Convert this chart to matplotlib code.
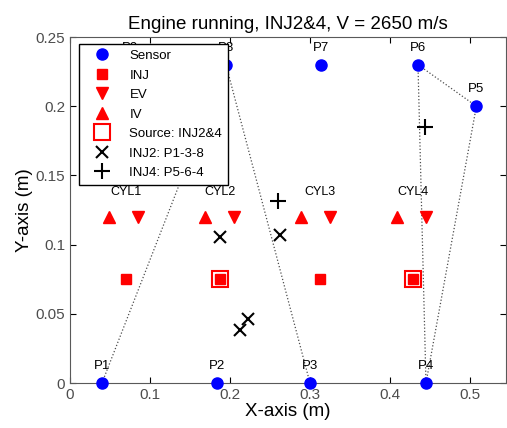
import matplotlib.pyplot as plt

plt.rcParams['font.family'] = ['Liberation Sans', 'DejaVu Sans']

# sensor positions (m)
sensor_names = ["P1", "P2", "P3", "P4", "P5", "P6", "P7", "P8", "P9"]
sensor_x = [0.04, 0.184, 0.30, 0.445, 0.508, 0.435, 0.314, 0.195, 0.075]
sensor_y = [0.0, 0.0, 0.0, 0.0, 0.20, 0.23, 0.23, 0.23, 0.23]

# cylinder components
cyl_names = ["CYL1", "CYL2", "CYL3", "CYL4"]
inj_x = [0.07, 0.1875, 0.312, 0.429]
inj_y = [0.075, 0.075, 0.075, 0.075]
ev_x = [0.085, 0.205, 0.325, 0.445]
iv_x = [0.049, 0.169, 0.289, 0.409]
valve_y = [0.12, 0.12, 0.12, 0.12]
label_y = 0.134

# sources
src_x = [0.1875, 0.429]
src_y = [0.075, 0.075]

# localisation results
inj2_x = [0.187, 0.263, 0.2125, 0.223]
inj2_y = [0.1055, 0.107, 0.038, 0.046]
inj4_x = [0.260, 0.444]
inj4_y = [0.1315, 0.185]

# sensor paths drawn for each source
path_inj2 = ["P1", "P8", "P3"]
path_inj4 = ["P5", "P6", "P4", "P5"]

fig = plt.figure(figsize=(5.07, 4.28), dpi=100)
ax = fig.add_axes([0.138, 0.105, 0.86, 0.8085])

pos = {n: (x, y) for n, x, y in zip(sensor_names, sensor_x, sensor_y)}
for path in (path_inj2, path_inj4):
    pts = [pos[n] for n in path]
    ax.plot([p[0] for p in pts], [p[1] for p in pts], ':', color='0.3',
            lw=0.9, zorder=1)

ax.plot(sensor_x, sensor_y, 'o', color='blue', ms=8, ls='none',
        label='Sensor', clip_on=False, zorder=5)
ax.plot(inj_x, inj_y, 's', color='red', ms=6.5, ls='none', label='INJ', zorder=4)
ax.plot(ev_x, valve_y, 'v', color='red', ms=8, ls='none', label='EV', zorder=4)
ax.plot(iv_x, valve_y, '^', color='red', ms=8, ls='none', label='IV', zorder=4)
ax.plot(src_x, src_y, 's', mfc='none', mec='red', mew=1.5, ms=11, ls='none',
        label='Source: INJ2&4', zorder=4)
ax.plot(inj2_x, inj2_y, 'x', color='black', ms=9, mew=1.5, ls='none',
        label='INJ2: P1-3-8', zorder=4)
ax.plot(inj4_x, inj4_y, '+', color='black', ms=11, mew=1.5, ls='none',
        label='INJ4: P5-6-4', zorder=4)

for n, x, y in zip(sensor_names, sensor_x, sensor_y):
    ax.text(x, y + 0.008, n, ha='center', va='bottom', fontsize=9.5, zorder=3)
for n, x in zip(cyl_names, inj_x):
    ax.text(x, label_y, n, ha='center', va='bottom', fontsize=9)

ax.set_xlim(0, 0.545)
ax.set_ylim(0, 0.25)
ax.set_xticks([0, 0.1, 0.2, 0.3, 0.4, 0.5])
ax.set_xticklabels(['0', '0.1', '0.2', '0.3', '0.4', '0.5'])
ax.set_yticks([0, 0.05, 0.1, 0.15, 0.2, 0.25])
ax.set_yticklabels(['0', '0.05', '0.1', '0.15', '0.2', '0.25'])
ax.tick_params(direction='in', top=True, right=True, labelsize=11,
               labelcolor='0.3', length=4)
for s in ax.spines.values():
    s.set_color('0.35')
ax.set_xlabel('X-axis (m)', fontsize=13.5, labelpad=1)
ax.set_ylabel('Y-axis (m)', fontsize=13.5, labelpad=2)
ax.set_title('Engine running, INJ2&4, V = 2650 m/s', fontsize=13.5, pad=6)

leg = ax.legend(loc='upper left', bbox_to_anchor=(0.02, 0.98), fontsize=9.5,
                fancybox=False, framealpha=1, edgecolor='black',
                borderaxespad=0, handlelength=2.6, labelspacing=0.55,
                borderpad=0.45)
leg.get_frame().set_linewidth(1)
leg.set_zorder(10)

fig.savefig('out.png', dpi=100)
